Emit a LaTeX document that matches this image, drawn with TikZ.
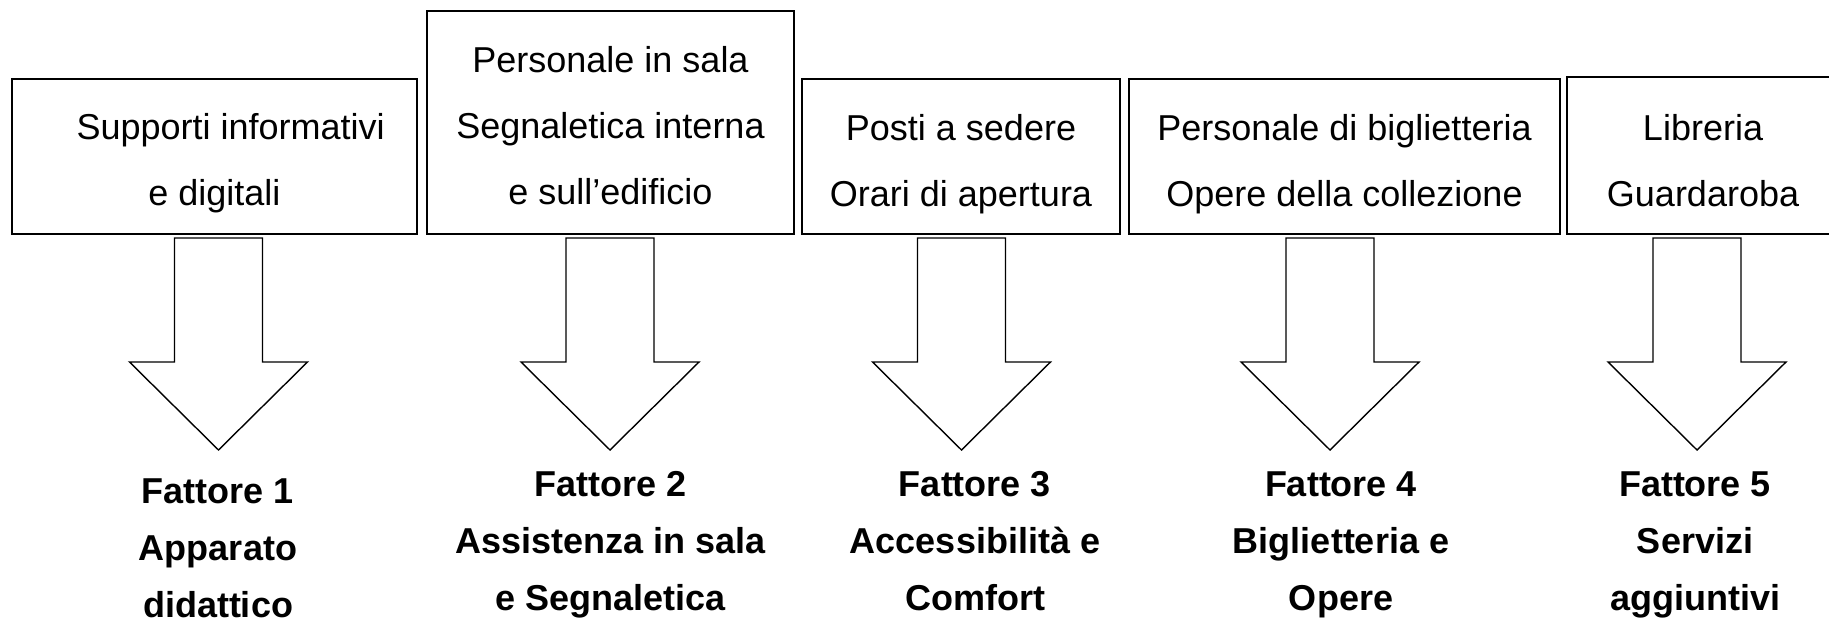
\documentclass[tikz,border=0pt]{standalone}
\usepackage{fontspec}
\setmainfont{Liberation Sans}
\tikzset{
  box/.style={draw, line width=0.75pt, inner sep=0pt},
  boxtext/.style={anchor=north, align=center, inner sep=0pt, font=\fontsize{18}{33}\selectfont},
  factor/.style={anchor=north, align=center, inner sep=0pt, font=\fontsize{18}{28.5}\selectfont\bfseries},
  fatarrow/.style={draw, line width=0.7pt, line join=miter}
}
\begin{document}
\begin{tikzpicture}[x=0.5pt, y=-0.5pt]
\useasboundingbox (0,0) rectangle (1829,620);
\clip (0,0) rectangle (1829,620);
% boxes
\node[box, minimum width=202.5pt, minimum height=77.5pt] (b1) at (214.5,156.5) {};
\node[box, minimum width=183.5pt, minimum height=111.5pt] (b2) at (610.5,122.5) {};
\node[box, minimum width=159pt, minimum height=77.5pt] (b3) at (961,156.5) {};
\node[box, minimum width=215.5pt, minimum height=77.5pt] (b4) at (1344.5,156.5) {};
\node[box, minimum width=136pt, minimum height=78.5pt] (b5) at (1703,155.5) {};
\node[boxtext] (t1) at (214.5,113.3) {\hspace*{0.9em}Supporti informativi\\e digitali};
\node[boxtext] (t2) at (610.5,46.2) {Personale in sala\\Segnaletica interna\\e sull’edificio};
\node[boxtext] (t3) at (961,113.7) {Posti a sedere\\Orari di apertura};
\node[boxtext] (t4) at (1344.5,113.7) {Personale di biglietteria\\Opere della collezione};
\node[boxtext] (t5) at (1703,113.7) {Libreria\\Guardaroba};
% factors
\node[factor] (f1) at (218,478.5) {Fattore 1\\Apparato\\didattico};
\node[factor] (f2) at (610.5,471) {Fattore 2\\Assistenza in sala\\e Segnaletica};
\node[factor] (f3) at (975,471) {Fattore 3\\Accessibilità e\\Comfort};
\node[factor] (f4) at (1341,471) {Fattore 4\\Biglietteria e\\Opere};
\node[factor] (f5) at (1695,471) {Fattore 5\\Servizi\\aggiuntivi};
% big arrows
\foreach \cx in {218.5,610,961.5,1330,1697}
  \draw[fatarrow] (\cx-44,238) -- (\cx+44,238) -- (\cx+44,362) -- (\cx+89,362)
    -- (\cx,450) -- (\cx-89,362) -- (\cx-44,362) -- cycle;
\end{tikzpicture}
\end{document}
